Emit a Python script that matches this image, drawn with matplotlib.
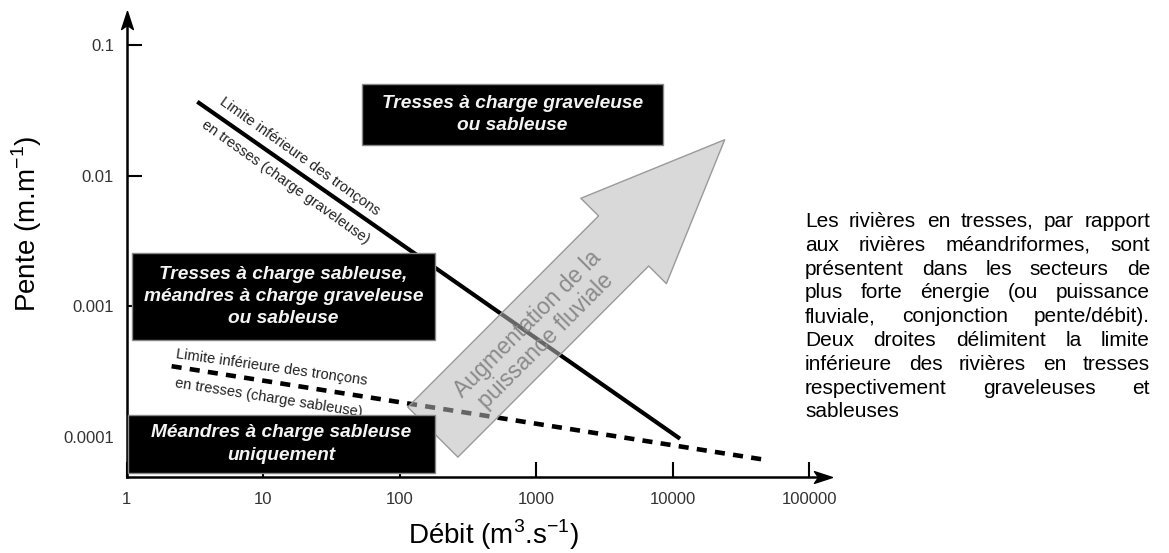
import matplotlib
matplotlib.use("Agg")
import matplotlib.pyplot as plt
from matplotlib.patches import Rectangle
import numpy as np

plt.rcParams['font.family'] = ['Liberation Sans', 'DejaVu Sans']
plt.rcParams['mathtext.fontset'] = 'custom'
plt.rcParams['mathtext.rm'] = 'Liberation Sans'

# --- data (débit m3/s, pente m/m) ---
xticks = [1, 10, 100, 1000, 10000, 100000]
xtick_labels = ["1", "10", "100", "1000", "10000", "100000"]
yticks = [0.0001, 0.001, 0.01, 0.1]
ytick_labels = ["0.0001", "0.001", "0.01", "0.1"]

# limite inférieure des tronçons en tresses (charge graveleuse)
grav_debit = [3.3, 11300]
grav_pente = [0.0367, 9.7e-5]
# limite inférieure des tronçons en tresses (charge sableuse)
sabl_debit = [2.14, 47000]
sabl_pente = [3.48e-4, 6.7e-5]

# flèche "augmentation de la puissance fluviale"
arrow_from = (175, 1.09e-4)
arrow_to = (24000, 0.0188)

# domaines (débit min, débit max, pente min, pente max)
zones = [
    ("Tresses à charge graveleuse\nou sableuse", 53, 8470, 0.01718, 0.0503),
    ("Tresses à charge sableuse,\nméandres à charge graveleuse\nou sableuse", 1.097, 181, 0.000553, 0.002566),
    ("Méandres à charge sableuse\nuniquement", 1.025, 181, 5.31e-5, 1.476e-4),
]

para_lines = [
    "Les rivières en tresses, par rapport",
    "aux rivières méandriformes, sont",
    "présentent dans les secteurs de",
    "plus forte énergie (ou puissance",
    "fluviale, conjonction pente/débit).",
    "Deux droites délimitent la limite",
    "inférieure des rivières en tresses",
    "respectivement graveleuses et",
    "sableuses",
]

W, H = 1169, 553
fig = plt.figure(figsize=(W / 100, H / 100), dpi=100)
ax = fig.add_axes([126.5 / W, 76 / H, (823 - 126.5) / W, (477 - 20) / H])
ax.set_xscale('log')
ax.set_yscale('log')
ax.set_xlim(1, 10 ** 5.1)
ax.set_ylim(10 ** -4.306, 10 ** -0.81)

for s in ['top', 'right']:
    ax.spines[s].set_visible(False)
for s in ['left', 'bottom']:
    ax.spines[s].set_linewidth(1.8)

ax.set_xticks(xticks, xtick_labels)
ax.set_yticks(yticks, ytick_labels)
ax.minorticks_off()
ax.tick_params(direction='in', length=11, width=1.5, labelsize=12, labelcolor='#333333')
ax.tick_params(axis='x', pad=11)
ax.tick_params(axis='y', pad=9)

# axis arrowheads
head = [(1, 0), (-1, 0.65), (-0.55, 0), (-1, -0.65), (1, 0)]
head_up = [(-y, x) for x, y in head]
ax.plot([1], [0], marker=head, ms=13, color='black', transform=ax.transAxes, clip_on=False)
ax.plot([0], [1], marker=head_up, ms=13, color='black', transform=ax.transAxes, clip_on=False)

ax.set_xlabel('Débit (m$^{\\mathregular{3}}$.s$^{\\mathregular{-1}}$)', fontsize=20, va='center')
ax.set_ylabel('Pente (m.m$^{\\mathregular{-1}}$)', fontsize=20, va='center')
ax.xaxis.set_label_coords(494 / W, 1 - 535 / H, transform=fig.transFigure)
ax.yaxis.set_label_coords(27 / W, 1 - 224 / H, transform=fig.transFigure)

# limit lines
ax.plot(grav_debit, grav_pente, color='black', lw=3, solid_capstyle='butt', zorder=2)
ax.plot(sabl_debit, sabl_pente, color='black', lw=3.3, dashes=(2.2, 1.8), zorder=2)

lab = dict(fontsize=10.5, color='#222222', ha='center', va='center', rotation_mode='anchor')
ax.text(18.6, 0.0139, "Limite inférieure des tronçons", rotation=-35.5, **lab)
ax.text(14.5, 0.00895, "en tresses (charge graveleuse)", rotation=-35.5, **lab)
ax.text(11.6, 3.41e-4, "Limite inférieure des tronçons", rotation=-8, **lab)
ax.text(11.0, 1.99e-4, "en tresses (charge sableuse)", rotation=-9, **lab)

# big grey arrow
ax.annotate('', xy=arrow_to, xytext=arrow_from, xycoords='data', textcoords='data',
            arrowprops=dict(arrowstyle='simple,head_length=1.03,head_width=0.87,tail_width=0.51',
                            mutation_scale=100, shrinkA=0, shrinkB=0,
                            fc=(0.73, 0.73, 0.73, 0.55), ec='#9a9a9a', lw=1),
            zorder=3)
ax.text(1010, 6.3e-4, "Augmentation de la\npuissance fluviale", rotation=45,
        fontsize=16.5, color='#8a8a8a', ha='center', va='center', linespacing=1.1,
        rotation_mode='anchor', zorder=4)

# black zones
for label, x0, x1, y0, y1 in zones:
    ax.add_patch(Rectangle((x0, y0), x1 - x0, y1 - y0, facecolor='black',
                           edgecolor='#888888', lw=1, zorder=5, clip_on=False))
    ax.text(np.sqrt(x0 * x1), np.sqrt(y0 * y1), label, color='#f4f4f4', fontsize=13.8,
            fontweight='bold', fontstyle='italic', ha='center', va='center',
            linespacing=1.4, zorder=6)

# justified paragraph on the right
renderer = fig.canvas.get_renderer()
left, right = 805, 1150
base0, step = 227, 23.8
space = 15 * 0.278 * 100 / 72
for i, line in enumerate(para_lines):
    words = line.split()
    y = 1 - (base0 + i * step) / H
    texts = [fig.text(0, y, w, fontsize=15, va='baseline', color='black') for w in words]
    widths = [t.get_window_extent(renderer).width for t in texts]
    if i == len(para_lines) - 1 or len(words) == 1:
        gap = space
    else:
        gap = (right - left - sum(widths)) / (len(words) - 1)
    x = left
    for t, w in zip(texts, widths):
        t.set_x(x / W)
        x += w + gap

fig.savefig('out.png', dpi=100)
